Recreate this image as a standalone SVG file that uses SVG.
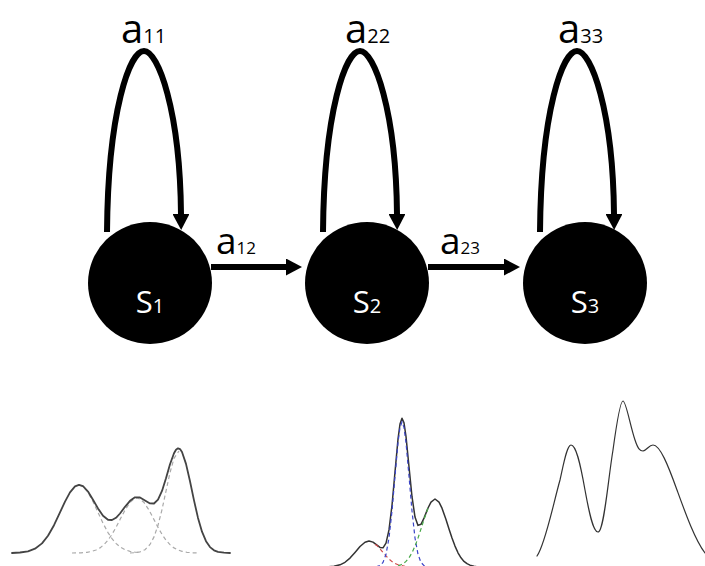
<svg xmlns="http://www.w3.org/2000/svg" width="705" height="566" viewBox="0 0 705 566">
<style>
.node{fill:#000}
.edge{fill:none;stroke:#000;stroke-width:6;stroke-linecap:butt}
.lbl{font-family:"Open Sans","Noto Sans","Liberation Sans",sans-serif;fill:#000}
.slbl{font-family:"Open Sans","Noto Sans","Liberation Sans",sans-serif;fill:#fff;font-size:31px;text-anchor:middle}
.solid{fill:none;stroke-linejoin:round;stroke-linecap:round}
.dash{fill:none;stroke-width:1.2;stroke-dasharray:4 3}
</style>
<defs>
<marker id="ah" markerUnits="userSpaceOnUse" markerWidth="16" markerHeight="17" refX="0" refY="8.5" orient="auto" viewBox="0 0 16 17"><path d="M0,0 L16,8.5 L0,17 z" fill="#000"/></marker>
</defs>
<rect width="705" height="566" fill="#fff"/>
<g id="connectors">
<path class="edge" marker-end="url(#ah)" d="M107,232 C108,110 130,51 144,51 C158,51 180,110 181,214"/>
<path class="edge" marker-end="url(#ah)" d="M323,232 C324,110 346,51 360,51 C374,51 396,110 397,214"/>
<path class="edge" marker-end="url(#ah)" d="M540,232 C541,110 563,51 577,51 C591,51 613,110 614,214"/>
<path class="edge" marker-end="url(#ah)" d="M211,267 H286"/>
<path class="edge" marker-end="url(#ah)" d="M428,267 H504"/>
<text class="lbl" x="121" y="43" font-size="40">a<tspan font-size="20">11</tspan></text>
<text class="lbl" x="345" y="43" font-size="40">a<tspan font-size="20">22</tspan></text>
<text class="lbl" x="558" y="43" font-size="40">a<tspan font-size="20">33</tspan></text>
<text class="lbl" x="216" y="254" font-size="37">a<tspan font-size="17">12</tspan></text>
<text class="lbl" x="440" y="254" font-size="37">a<tspan font-size="17">23</tspan></text>
</g>
<g id="S1"><ellipse class="node" cx="150" cy="283" rx="62" ry="61"/><text class="slbl" x="150" y="313">S<tspan font-size="20">1</tspan></text></g>
<g id="S2"><ellipse class="node" cx="367" cy="283" rx="62" ry="61"/><text class="slbl" x="367" y="313">S<tspan font-size="20">2</tspan></text></g>
<g id="S3"><ellipse class="node" cx="585" cy="283" rx="62" ry="61"/><text class="slbl" x="585" y="313">S<tspan font-size="20">3</tspan></text></g>
<g id="mixture1">
<path class="dash" stroke="#aaa" d="M79,485 L83,486.5 88,492.4 93,501.6 98,512.4 103,523.2 108,532.6 112,538.7 116,543.4 120,546.9 125,549.7 130,551.4 135,552.2 140,552.7"/>
<path class="dash" stroke="#aaa" d="M72,553 L81,552.8 87,552.3 92,551.3 96,550 100,547.9 104,544.6 108,540.2 112,534.3 116,527.4 120,519.6 125,510.1 130,502.5 134,498.9 137,498 140,498.9 144,502.5 149,510.1 154,519.6 158,527.4 162,534.3 166,540.2 170,544.6 174,547.9 178,550 182,551.3 187,552.3 193,552.8 199,553"/>
<path class="dash" stroke="#aaa" d="M130,553 L135,552.7 140,551.9 145,549.7 150,544.5 154,536.9 158,525.3 162,509.6 166,491.1 170,472.7 174,458.3 179,451"/>
<path class="solid" stroke="#444" stroke-width="1.8" d="M12,553 L20,552.5 28,551.4 35,548.7 42,543.4 48,535.8 54,525.2 60,512.4 65,501.6 70,492.4 75,486.4 79,484.8 83,486.1 88,491.5 93,499.7 98,508.4 103,515.8 108,519.8 112,520 116,517.8 120,513.5 125,506.8 130,500.8 135,497.3 140,497.4 145,500.4 150,503.4 154,503.5 158,499.7 162,490.9 166,478.3 170,464.3 174,453.2 176,449.7 178,448.3 180,449.1 182,452 186,463.9 190,481.3 194,500.4 198,517.9 202,531.7 206,541.2 210,547.1 214,550.3 218,551.9 224,552.7 230,553"/>
</g>
<g id="mixture2">
<path class="solid" stroke="#333" stroke-width="1.5" d="M328,566.8 L334,566.3 340,564.8 345,562.3 350,558.1 355,552.4 360,546.5 365,542.2 369,541 373,542.1 377,545.1 380,547.4 383,547.8 386,543.2 389,529.9 392,505.3 395,472 398,439.2 400,424 402,418.3 404,422.8 406,436.5 409,466.7 412,496.7 415,517.1 418,525.4 421,524.3 424,518.1 428,508 431,502.1 435,499 439,502.1 442,508.2 446,519.5 449,528.9 452,538.1 455,546.1 458,552.8 461,557.8 464,561.4 467,563.7 470,565.2 474,566.2 478,567"/>
<path class="dash" stroke="#d04848" stroke-dasharray="3 2" stroke-width="1.3" d="M375,544.5 L377,545.5 380,548.8 383,552.4 386,555.9 389,559 392,561.6 395,563.5 398,564.8 401,565.5 405,566.3"/>
<path class="dash" stroke="#3a44c8" stroke-dasharray="3 2" stroke-width="1.3" d="M376,566.8 L380,565.6 383,562.4 386,554.3 389,538 392,511 395,476.1 398,442.5 400,427.4 402,422 404,427.4 406,442.5 409,476.1 412,511 415,538 418,554.3 421,562.4 424,565.6 428,566.8"/>
<path class="dash" stroke="#48a848" stroke-dasharray="3 2" stroke-width="1.3" d="M428,508.2 L424,519.5 421,528.9 418,538.1 415,546.1 412,552.8 409,557.8 406,561.4 403,563.7 400,565.2 396,566.2"/>
</g>
<g id="mixture3">
<path class="solid" stroke="#333" stroke-width="1.2" d="M537,556 C545,545 553,505 560,480 C564,462 567,445 571,445 C576,445 580,462 585,490 C589,512 593,532 598,532 C604,532 608,480 613,450 C616,428 620,401 623,401 C626,401 630,425 635,440 C638,449 640,451 643,451 C647,450 649,445 653,445 C660,445 668,465 677,490 C685,512 695,540 705,553"/>
</g>
</svg>
